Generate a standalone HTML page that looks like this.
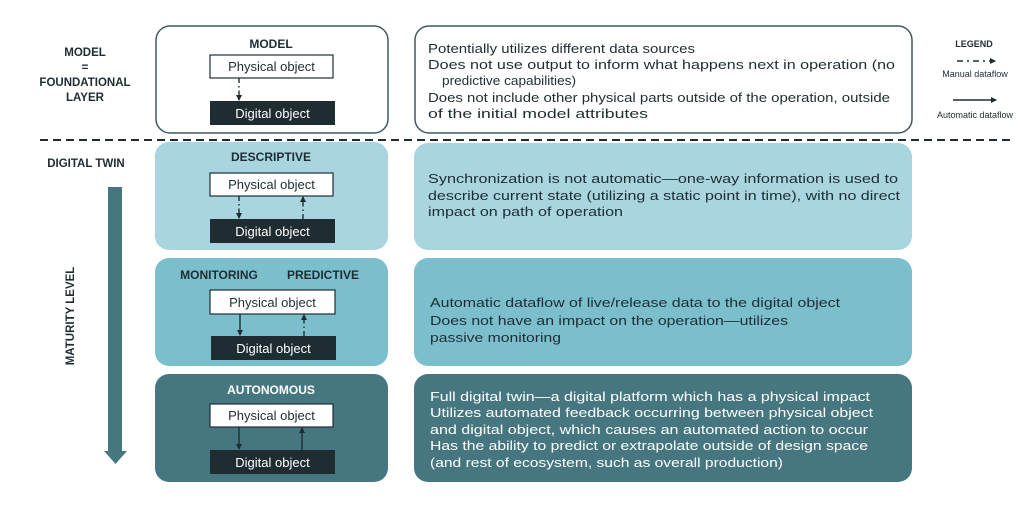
<!DOCTYPE html>
<html><head><meta charset="utf-8"><style>
html,body{margin:0;padding:0;background:#fff;}
svg{display:block;font-family:"Liberation Sans",sans-serif;}
</style></head><body>
<svg width="1024" height="510" viewBox="0 0 1024 510" xmlns="http://www.w3.org/2000/svg">
<defs>
<marker id="ah" markerWidth="6" markerHeight="6" refX="5" refY="3" orient="auto" markerUnits="userSpaceOnUse"><path d="M0,0 L6,3 L0,6 z" fill="#1f2d33"/></marker>
</defs>
<rect width="1024" height="510" fill="#fff"/>
<!-- left labels -->
<g font-weight="bold" font-size="11.5" fill="#1f2d33" text-anchor="middle">
<text x="85" y="56">MODEL</text>
<text x="85" y="71">=</text>
<text x="85" y="86">FOUNDATIONAL</text>
<text x="85" y="101">LAYER</text>
<text x="86" y="167">DIGITAL TWIN</text>
<text transform="translate(74,316) rotate(-90)">MATURITY LEVEL</text>
</g>
<rect x="108" y="187" width="14" height="266" fill="#467780"/>
<path d="M104,451 L127,451 L115.5,464 z" fill="#467780"/>
<!-- dashed line -->
<line x1="40" y1="140" x2="1010" y2="140" stroke="#1f2d33" stroke-width="2" stroke-dasharray="8,5"/>
<!-- left boxes -->
<rect x="156" y="26" width="232" height="107" rx="14" fill="#fff" stroke="#3e5a60" stroke-width="1.5"/>
<rect x="155" y="142" width="233" height="108" rx="14" fill="#a8d5df"/>
<rect x="155" y="258" width="233" height="108" rx="14" fill="#7bbfcc"/>
<rect x="155" y="374" width="233" height="108" rx="14" fill="#467780"/>
<!-- right boxes -->
<rect x="415" y="26" width="497" height="107" rx="14" fill="#fff" stroke="#3e5a60" stroke-width="1.5"/>
<rect x="414" y="143" width="498" height="107" rx="14" fill="#a8d5df"/>
<rect x="414" y="258" width="498" height="108" rx="14" fill="#7bbfcc"/>
<rect x="414" y="374" width="498" height="108" rx="14" fill="#467780"/>
<!-- headings -->
<g font-weight="bold" font-size="12" text-anchor="middle" fill="#1f2d33">
<text x="271" y="48">MODEL</text>
<text x="271" y="161">DESCRIPTIVE</text>
<text x="219" y="279">MONITORING</text>
<text x="323" y="279">PREDICTIVE</text>
<text x="271" y="394" fill="#fff">AUTONOMOUS</text>
</g>
<!-- object boxes -->
<g font-size="13" text-anchor="middle">
<rect x="210" y="55" width="123" height="23" fill="#fff" stroke="#1f2d33" stroke-width="1.2"/><text x="271.5" y="71" fill="#1f2d33">Physical object</text>
<rect x="210" y="101" width="125" height="24" fill="#1f2d33"/><text x="272.5" y="118" fill="#fff">Digital object</text>
<rect x="210" y="173" width="123" height="23" fill="#fff" stroke="#1f2d33" stroke-width="1.2"/><text x="271.5" y="189" fill="#1f2d33">Physical object</text>
<rect x="210" y="219" width="125" height="24" fill="#1f2d33"/><text x="272.5" y="236" fill="#fff">Digital object</text>
<rect x="210" y="290" width="125" height="24" fill="#fff" stroke="#1f2d33" stroke-width="1.2"/><text x="272.5" y="307" fill="#1f2d33">Physical object</text>
<rect x="211" y="336" width="125" height="24" fill="#1f2d33"/><text x="273.5" y="353" fill="#fff">Digital object</text>
<rect x="210" y="404" width="123" height="23" fill="#fff" stroke="#1f2d33" stroke-width="1.2"/><text x="271.5" y="420" fill="#1f2d33">Physical object</text>
<rect x="210" y="450" width="125" height="24" fill="#1f2d33"/><text x="272.5" y="467" fill="#fff">Digital object</text>
</g>
<!-- connectors -->
<g stroke="#1f2d33" stroke-width="1.4" fill="none">
<line x1="239" y1="78" x2="239" y2="100" stroke-dasharray="5,3,1.5,3" marker-end="url(#ah)"/>
<line x1="239" y1="196" x2="239" y2="218" stroke-dasharray="5,3,1.5,3" marker-end="url(#ah)"/>
<line x1="303" y1="219" x2="303" y2="197" stroke-dasharray="5,3,1.5,3" marker-end="url(#ah)"/>
<line x1="240" y1="314" x2="240" y2="335" marker-end="url(#ah)"/>
<line x1="304" y1="336" x2="304" y2="315" stroke-dasharray="5,3,1.5,3" marker-end="url(#ah)"/>
<line x1="239" y1="427" x2="239" y2="449" marker-end="url(#ah)"/>
<line x1="302" y1="450" x2="302" y2="428" marker-end="url(#ah)"/>
<line x1="957" y1="61" x2="995" y2="61" stroke-dasharray="6,4,2,4" marker-end="url(#ah)"/>
<line x1="953" y1="100" x2="996" y2="100" marker-end="url(#ah)"/>
</g>
<g font-size="9" fill="#1f2d33" text-anchor="middle">
<text x="974" y="47" font-weight="bold">LEGEND</text>
<text x="975" y="77">Manual dataflow</text>
<text x="975" y="118">Automatic dataflow</text>
</g>
<!-- descriptions -->
<g font-size="13" fill="#1f2d33" lengthAdjust="spacingAndGlyphs">
<text x="428" y="53" textLength="267" lengthAdjust="spacingAndGlyphs">Potentially utilizes different data sources</text>
<text x="428" y="69" textLength="467" lengthAdjust="spacingAndGlyphs">Does not use output to inform what happens next in operation (no</text>
<text x="442" y="85" textLength="134" lengthAdjust="spacingAndGlyphs">predictive capabilities)</text>
<text x="428" y="102" textLength="462" lengthAdjust="spacingAndGlyphs">Does not include other physical parts outside of the operation, outside</text>
<text x="428" y="118" textLength="220" lengthAdjust="spacingAndGlyphs">of the initial model attributes</text>

<text x="428" y="183" textLength="470" lengthAdjust="spacingAndGlyphs">Synchronization is not automatic—one-way information is used to</text>
<text x="428" y="200" textLength="472" lengthAdjust="spacingAndGlyphs">describe current state (utilizing a static point in time), with no direct</text>
<text x="428" y="216" textLength="195" lengthAdjust="spacingAndGlyphs">impact on path of operation</text>

<text x="430" y="307" textLength="410" lengthAdjust="spacingAndGlyphs">Automatic dataflow of live/release data to the digital object</text>
<text x="430" y="325" textLength="358" lengthAdjust="spacingAndGlyphs">Does not have an impact on the operation—utilizes</text>
<text x="430" y="342" textLength="131" lengthAdjust="spacingAndGlyphs">passive monitoring</text>
</g>
<g font-size="13" fill="#fff">
<text x="430" y="401" textLength="440" lengthAdjust="spacingAndGlyphs">Full digital twin—a digital platform which has a physical impact</text>
<text x="430" y="417" textLength="443" lengthAdjust="spacingAndGlyphs">Utilizes automated feedback occurring between physical object</text>
<text x="430" y="434" textLength="438" lengthAdjust="spacingAndGlyphs">and digital object, which causes an automated action to occur</text>
<text x="430" y="450" textLength="438" lengthAdjust="spacingAndGlyphs">Has the ability to predict or extrapolate outside of design space</text>
<text x="430" y="467" textLength="353" lengthAdjust="spacingAndGlyphs">(and rest of ecosystem, such as overall production)</text>
</g>
</svg>
</body></html>
